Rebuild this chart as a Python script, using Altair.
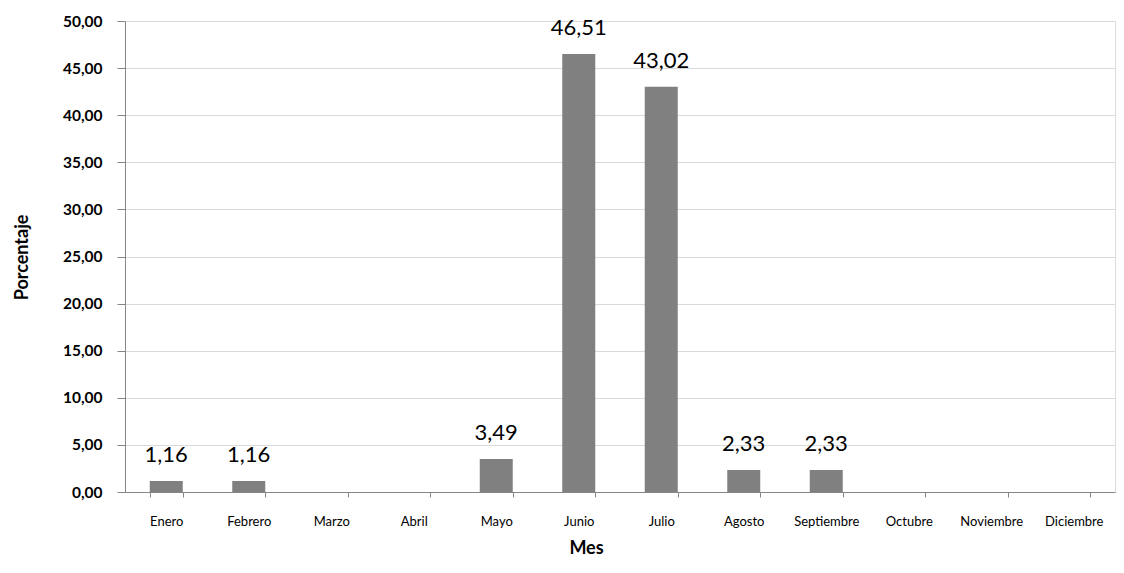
import altair as alt
import pandas as pd

meses = ["Enero", "Febrero", "Marzo", "Abril", "Mayo", "Junio", "Julio",
         "Agosto", "Septiembre", "Octubre", "Noviembre", "Diciembre"]
porcentaje = [1.16, 1.16, 0.0, 0.0, 3.49, 46.51, 43.02, 2.33, 2.33, 0.0, 0.0, 0.0]
y_ticks = [0, 5, 10, 15, 20, 25, 30, 35, 40, 45, 50]

df = pd.DataFrame({"Mes": meses, "Porcentaje": porcentaje})

FONT = "Lato"

x_enc = alt.X(
    "Mes:N", sort=meses, scale=alt.Scale(paddingInner=0.6, paddingOuter=0.3),
    axis=alt.Axis(
        title="Mes", titleFont=FONT, titleFontSize=18, titleFontWeight="bold",
        titleColor="#000000", titleX=461, titleY=56, titleBaseline="middle",
        titleAlign="center",
        labelFont=FONT, labelFontSize=13, labelColor="#000000", labelAngle=0,
        labelPadding=18, tickSize=5, tickColor="#868686", domainColor="#868686",
        tickBand="extent", labelBaseline="top",
    ),
)

y_enc = alt.Y(
    "Porcentaje:Q", scale=alt.Scale(domain=[0, 50], nice=False),
    axis=alt.Axis(
        title="Porcentaje", titleFont=FONT, titleFontSize=18, titleFontWeight="bold",
        titleColor="#000000", titleX=-103, titleY=236, titleAngle=270,
        titleAlign="center", titleBaseline="middle",
        values=y_ticks, labelExpr="replace(format(datum.value, '.2f'), '.', ',')",
        labelFont=FONT, labelFontSize=15.5, labelFontWeight="bold", labelColor="#000000",
        labelPadding=15, tickSize=8, tickColor="#868686", domainColor="#868686",
        gridColor="#d9d9d9", gridWidth=1,
    ),
)

bars = alt.Chart(df).mark_bar(color="#808080").encode(x=x_enc, y=y_enc)

labels = alt.Chart(df).transform_filter(
    "datum.Porcentaje > 0"
).transform_calculate(
    lab="replace(format(datum.Porcentaje, '.2f'), '.', ',')"
).mark_text(
    font=FONT, fontSize=22, color="#000000", baseline="alphabetic", dy=-19
).encode(
    x=alt.X("Mes:N", sort=meses),
    y=alt.Y("Porcentaje:Q"),
    text="lab:N",
)

chart = alt.layer(bars, labels).properties(
    width=990, height=471,
    autosize=alt.AutoSizeParams(type="none"),
    padding={"left": 117, "top": 13, "right": 1, "bottom": 73},
).configure_view(stroke=None).configure(background="#ffffff")

chart.save("out.html", embed_options={"renderer": "svg", "actions": False})
